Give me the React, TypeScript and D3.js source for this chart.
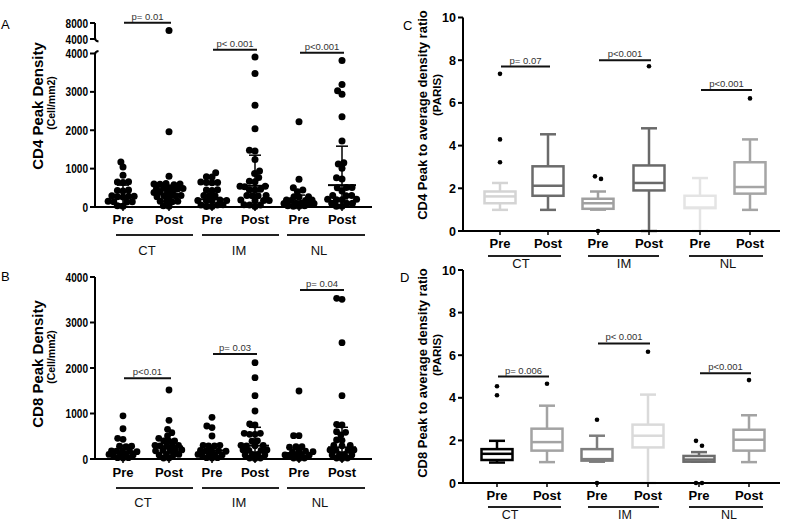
import React from 'react';
import * as d3 from 'd3';

const FONT = "'Liberation Sans', Arial, Helvetica, sans-serif";

const conditions = ['Pre', 'Post', 'Pre', 'Post', 'Pre', 'Post'];
const sites = ['CT', 'IM', 'NL'];

// ---------- Panel A: CD4 peak density (cells/mm2) ----------
const cd4CTPre = [1175, 1040, 830, 660, 650, 640, 440, 430, 420, 290, 280, 280, 270, 260, 150, 140, 140, 130, 30, 20];
const cd4CTPost = [6100, 1960, 800, 610, 600, 600, 590, 580, 500, 490, 490, 480, 470, 400, 390, 390, 380, 300, 290, 290, 280, 270, 160, 150, 150, 140, 30, 20];
const cd4IMPre = [890, 790, 780, 650, 640, 640, 630, 450, 440, 430, 300, 290, 290, 180, 170, 170, 160, 160, 60, 50, 50, 10, 10];
const cd4IMPost = [3910, 3480, 2650, 2040, 1480, 1460, 1240, 940, 870, 770, 670, 660, 540, 540, 530, 460, 450, 450, 300, 300, 290, 290, 180, 170, 170, 160, 60, 50, 50, 10];
const cd4NLPre = [2220, 720, 500, 440, 400, 270, 270, 260, 180, 180, 170, 170, 100, 100, 90, 90, 90, 30, 30, 20, 20];
const cd4NLPost = [3820, 3190, 3030, 2940, 2350, 1720, 1150, 1120, 1010, 760, 730, 510, 510, 500, 420, 300, 300, 290, 200, 200, 190, 190, 100, 100, 90, 20, 20];
const cd4DensityMedian = [268, 330, 200, 553, 138, 570];
const cd4DensityQ1 = [80, 150, 70, 250, 50, 180];
const cd4DensityQ3 = [570, 485, 460, 1350, 310, 1585];
const cd4DensityP = ['p= 0.01', 'p< 0.001', 'p<0.001'];
const cd4DensityPHeight = [8075, 4100, 4020];
const cd4LowerTicks = [0, 1000, 2000, 3000, 4000];
const cd4UpperTicks = [4000, 8000];

// ---------- Panel B: CD8 peak density (cells/mm2) ----------
const cd8CTPre = [950, 665, 455, 432, 280, 280, 270, 180, 180, 170, 170, 160, 100, 100, 90, 90, 90, 30, 30, 20];
const cd8CTPost = [1516, 850, 652, 578, 505, 455, 400, 400, 390, 300, 300, 290, 290, 280, 200, 200, 190, 190, 180, 100, 100, 90, 90, 20, 20];
const cd8IMPre = [916, 725, 690, 505, 300, 300, 290, 290, 190, 190, 180, 180, 170, 100, 100, 90, 90, 90, 30, 30, 20];
const cd8IMPost = [2117, 1787, 1391, 1055, 770, 747, 565, 543, 543, 565, 400, 390, 300, 300, 290, 290, 200, 200, 190, 190, 100, 100, 90, 90, 20, 20, 10];
const cd8NLPre = [1495, 512, 512, 270, 270, 260, 170, 170, 160, 160, 90, 90, 90, 80, 80, 20, 20, 10];
const cd8NLPost = [3532, 3510, 2556, 1391, 763, 747, 600, 587, 527, 418, 410, 300, 300, 290, 200, 200, 190, 190, 100, 100, 90, 90, 20, 20, 10];
const cd8DensityMedian = [167, 275, 188, 293, 125, 257];
const cd8DensityQ1 = [80, 130, 90, 110, 50, 80];
const cd8DensityQ3 = [300, 420, 290, 697, 230, 697];
const cd8DensityP = ['p<0.01', 'p= 0.03', 'p= 0.04'];
const cd8DensityPHeight = [1774, 2308, 3714];
const cd8Ticks = [0, 1000, 2000, 3000, 4000];

// ---------- Panel C: CD4 PARIS ----------
const cd4ParisWhiskerLow = [0.99, 0.99, 1.0, 0, 0, 0.99];
const cd4ParisQ1 = [1.30, 1.65, 1.04, 1.90, 1.07, 1.75];
const cd4ParisMedian = [1.62, 2.12, 1.30, 2.25, 1.10, 2.06];
const cd4ParisQ3 = [1.85, 3.03, 1.51, 3.07, 1.65, 3.22];
const cd4ParisWhiskerHigh = [2.25, 4.53, 1.85, 4.81, 2.48, 4.29];
const cd4ParisOutliers = [[7.36, 4.29, 3.22], [], [2.56, 2.44, 0], [7.72], [], [6.21]];
const cd4ParisColors = ['#d4d4d4', '#6b6b6b', '#a0a0a0', '#696969', '#e4e4e4', '#a5a5a5'];
const cd4ParisP = ['p= 0.07', 'p<0.001', 'p<0.001'];
const cd4ParisPHeight = [7.7, 8.0, 6.6];

// ---------- Panel D: CD8 PARIS ----------
const cd8ParisWhiskerLow = [0.96, 0.98, 1.0, 0, 1.0, 0.98];
const cd8ParisQ1 = [1.08, 1.52, 1.05, 1.67, 1.0, 1.52];
const cd8ParisMedian = [1.37, 1.92, 1.12, 2.22, 1.1, 2.03];
const cd8ParisQ3 = [1.59, 2.55, 1.59, 2.74, 1.27, 2.50];
const cd8ParisWhiskerHigh = [1.98, 3.63, 2.22, 4.15, 1.45, 3.18];
const cd8ParisOutliers = [[4.54, 4.12], [4.66], [2.97, 0], [6.16], [1.98, 1.75, 0, 0], [4.83]];
const cd8ParisColors = ['#000000', '#a3a3a3', '#7d7d7d', '#dadada', '#6c6c6c', '#a3a3a3'];
const cd8ParisP = ['p= 0.006', 'p< 0.001', 'p<0.001'];
const cd8ParisPHeight = [5.0, 6.55, 5.15];
const parisTicks = [0, 2, 4, 6, 8, 10];

// beeswarm offsets, processed from the bottom up, with a capped half-width
function beeswarm(ys: number[], r: number, maxW: number): number[] {
  const order = ys.map((y, i) => i).sort((a, b) => ys[b] - ys[a]);
  const placed: { dx: number; y: number }[] = [];
  const out = new Array(ys.length).fill(0);
  const d = 2 * r * 0.8;
  for (const i of order) {
    const py = ys[i];
    const iv: [number, number][] = [];
    for (const p of placed) {
      const dy = Math.abs(p.y - py);
      if (dy < d) {
        const w = Math.sqrt(d * d - dy * dy);
        iv.push([p.dx - w, p.dx + w]);
      }
    }
    const cands = [0];
    iv.forEach(([a, b]) => cands.push(a, b));
    cands.sort((a, b) => Math.abs(a) - Math.abs(b) || a - b);
    let chosen: number | null = null;
    for (const c of cands) {
      if (Math.abs(c) > maxW) break;
      if (iv.every(([a, b]) => c <= a + 1e-6 || c >= b - 1e-6)) {
        chosen = c;
        break;
      }
    }
    if (chosen === null) {
      let best = 0;
      let bestD = -1;
      for (let c = -maxW; c <= maxW + 1e-6; c += 0.5) {
        let md = Infinity;
        for (const p of placed) {
          const dd = Math.hypot(p.dx - c, p.y - py);
          if (dd < md) md = dd;
        }
        if (md > bestD) {
          bestD = md;
          best = c;
        }
      }
      chosen = best;
    }
    placed.push({ dx: chosen, y: py });
    out[i] = chosen;
  }
  return out;
}

type Layout = {
  xs: number[];
  x0: number;
  x1: number;
  base: number;
  catBase: number;
  lineY: number;
  groupBase: number;
  segs: [number, number][];
  groupX: number[];
};

const layoutTop: Layout = {
  xs: [123, 169, 212, 255, 299, 342], x0: 95, x1: 372, base: 207, catBase: 224, lineY: 235, groupBase: 255,
  segs: [[116, 193], [202, 279], [287, 365]], groupX: [147, 239, 319],
};
const layoutB: Layout = {
  xs: [123, 169, 212, 255, 299, 342], x0: 95, x1: 372, base: 459, catBase: 477, lineY: 488, groupBase: 507,
  segs: [[116, 193], [202, 279], [287, 365]], groupX: [143, 239, 320],
};
const layoutC: Layout = {
  xs: [500, 548, 598, 649, 700, 750], x0: 463, x1: 780, base: 231, catBase: 248, lineY: 256, groupBase: 268,
  segs: [[488, 561], [588, 659], [689, 763]], groupX: [521, 624, 728],
};
const layoutD: Layout = {
  xs: [497, 547, 597, 648, 699, 749], x0: 463, x1: 780, base: 483, catBase: 500, lineY: 507, groupBase: 519,
  segs: [[488, 561], [588, 659], [689, 763]], groupX: [510, 625, 729],
};

function XAxis({ L, groupSize }: { L: Layout; groupSize: number }) {
  return (
    <g>
      <line x1={L.x0} x2={L.x1} y1={L.base} y2={L.base} stroke="#000" strokeWidth={2} />
      {L.xs.map((x, i) => (
        <line key={'t' + i} x1={x} x2={x} y1={L.base} y2={L.base + 4} stroke="#000" strokeWidth={1.5} />
      ))}
      {conditions.map((c, i) => (
        <text key={'c' + i} x={L.xs[i]} y={L.catBase} textAnchor="middle" fontFamily={FONT} fontWeight="bold" fontSize={13}>
          {c}
        </text>
      ))}
      {L.segs.map((s, i) => (
        <line key={'s' + i} x1={s[0]} x2={s[1]} y1={L.lineY} y2={L.lineY} stroke="#222" strokeWidth={2} />
      ))}
      {sites.map((s, i) => (
        <text key={'g' + i} x={L.groupX[i]} y={L.groupBase} textAnchor="middle" fontFamily={FONT} fontSize={groupSize} fill="#111">
          {s}
        </text>
      ))}
    </g>
  );
}

function YTicks({ ticks, y, x, squeeze }: { ticks: number[]; y: (v: number) => number; x: number; squeeze: boolean }) {
  return (
    <g>
      {ticks.map((t, i) => {
        const s = String(t);
        return (
          <g key={i}>
            <line x1={x - 5} x2={x} y1={y(t)} y2={y(t)} stroke="#000" strokeWidth={2} />
            <text
              x={x - 7}
              y={y(t) + 4.5}
              textAnchor="end"
              fontFamily={FONT}
              fontWeight="bold"
              fontSize={12.5}
              {...(squeeze ? { textLength: s.length * 5.6, lengthAdjust: 'spacingAndGlyphs' } : {})}
            >
              {s}
            </text>
          </g>
        );
      })}
    </g>
  );
}

function PBars({ L, labels, heights, y }: { L: Layout; labels: string[]; heights: number[]; y: (v: number) => number }) {
  return (
    <g>
      {labels.map((p, i) => {
        const x1 = L.xs[2 * i] + 1;
        const x2 = L.xs[2 * i + 1] + 2;
        const yy = y(heights[i]);
        return (
          <g key={i}>
            <line x1={x1} x2={x2} y1={yy} y2={yy} stroke="#111" strokeWidth={2} />
            <text x={(x1 + x2) / 2} y={yy - 3} textAnchor="middle" fontFamily={FONT} fontSize={9.5} fill="#333">
              {p}
            </text>
          </g>
        );
      })}
    </g>
  );
}

function Scatter({ data, median, q1, q3, y, L, r, maxW }: { data: number[][]; median: number[]; q1: number[]; q3: number[]; y: (v: number) => number; L: Layout; r: number; maxW: number }) {
  return (
    <g>
      {data.map((vals, i) => {
        const ys = vals.map(y);
        const dx = beeswarm(ys, r, maxW);
        return (
          <g key={i}>
            {ys.map((py, j) => (
              <circle key={j} cx={L.xs[i] + dx[j]} cy={py} r={r} fill="#000" />
            ))}
          </g>
        );
      })}
      {median.map((m, i) => {
        const x = L.xs[i];
        return (
          <g key={'m' + i} stroke="#000">
            <line x1={x - 14} x2={x + 14} y1={y(m)} y2={y(m)} strokeWidth={2} />
            <line x1={x} x2={x} y1={y(q1[i])} y2={y(q3[i])} strokeWidth={1.5} />
            <line x1={x - 6} x2={x + 6} y1={y(q3[i])} y2={y(q3[i])} strokeWidth={1.5} />
            <line x1={x - 6} x2={x + 6} y1={y(q1[i])} y2={y(q1[i])} strokeWidth={1.5} />
          </g>
        );
      })}
    </g>
  );
}

function Boxes({ lo, q1, med, q3, hi, outliers, colors, y, L }: { lo: number[]; q1: number[]; med: number[]; q3: number[]; hi: number[]; outliers: number[][]; colors: string[]; y: (v: number) => number; L: Layout }) {
  const bw = 31;
  const cw = 16;
  return (
    <g>
      {L.xs.map((x, i) => {
        const c = colors[i];
        const outs = outliers[i];
        const offs = outs.map((v, j) => {
          const near = outs.filter((w, k) => k !== j && Math.abs(w - v) < 0.35);
          if (near.length === 0) return 0;
          const firstIdx = outs.findIndex((w) => Math.abs(w - v) < 0.35);
          return firstIdx === j ? -3 : 3;
        });
        return (
          <g key={i}>
            <line x1={x} x2={x} y1={y(lo[i])} y2={y(q1[i])} stroke={c} strokeWidth={2.5} />
            <line x1={x} x2={x} y1={y(q3[i])} y2={y(hi[i])} stroke={c} strokeWidth={2.5} />
            <line x1={x - cw / 2} x2={x + cw / 2} y1={y(lo[i])} y2={y(lo[i])} stroke={c} strokeWidth={2.5} />
            <line x1={x - cw / 2} x2={x + cw / 2} y1={y(hi[i])} y2={y(hi[i])} stroke={c} strokeWidth={2.5} />
            <rect x={x - bw / 2} y={y(q3[i])} width={bw} height={y(q1[i]) - y(q3[i])} fill="#fff" stroke={c} strokeWidth={2.5} />
            <line x1={x - bw / 2} x2={x + bw / 2} y1={y(med[i])} y2={y(med[i])} stroke={c} strokeWidth={2.5} />
            {outs.map((v, j) => (
              <circle key={j} cx={x + offs[j]} cy={y(v)} r={2.3} fill="#000" />
            ))}
          </g>
        );
      })}
    </g>
  );
}

function YTitle({ x, y, text, size }: { x: number; y: number; text: string; size: number }) {
  return (
    <text transform={`translate(${x},${y}) rotate(-90)`} textAnchor="middle" fontFamily={FONT} fontWeight="bold" fontSize={size} fill="#000">
      {text}
    </text>
  );
}

export default function App() {
  const aLower = d3.scaleLinear().domain([0, 4000]).range([207, 53.5]);
  const aUpper = d3.scaleLinear().domain([4000, 8000]).range([39, 23]);
  const yA = (v: number) => (v > 4500 ? aUpper(v) : aLower(v));
  const yB = d3.scaleLinear().domain([0, 4000]).range([459, 277]);
  const yC = d3.scaleLinear().domain([0, 10]).range([231, 17.5]);
  const yD = d3.scaleLinear().domain([0, 10]).range([483, 270]);

  const dataA = [cd4CTPre, cd4CTPost, cd4IMPre, cd4IMPost, cd4NLPre, cd4NLPost];
  const dataB = [cd8CTPre, cd8CTPost, cd8IMPre, cd8IMPost, cd8NLPre, cd8NLPost];

  return (
    <svg width={785} height={522} style={{ position: 'absolute', left: 0, top: 0, background: '#fff' }}>
      <rect x={0} y={0} width={785} height={522} fill="#fff" />
      <text x={1} y={29} fontFamily={FONT} fontSize={13}>A</text>
      <text x={1} y={281} fontFamily={FONT} fontSize={13}>B</text>
      <text x={403} y={30} fontFamily={FONT} fontSize={13}>C</text>
      <text x={400} y={282} fontFamily={FONT} fontSize={13}>D</text>

      {/* ---------- Panel A ---------- */}
      <YTitle x={43} y={106} text="CD4 Peak Density" size={15} />
      <YTitle x={54.5} y={103} text="(Cell/mm2)" size={10.5} />
      <path d={`M95,${aUpper(8000)} L95,${aUpper(4000) - 1} q0,3 3.5,3.5`} fill="none" stroke="#000" strokeWidth={2} />
      <path d={`M95,207 L95,${aLower(4000) + 1} q0,-3 3.5,-3.5`} fill="none" stroke="#000" strokeWidth={2} />
      <YTicks ticks={cd4LowerTicks} y={aLower} x={95} squeeze={true} />
      <YTicks ticks={cd4UpperTicks} y={aUpper} x={95} squeeze={true} />
      <XAxis L={layoutTop} groupSize={13} />
      <Scatter data={dataA} median={cd4DensityMedian} q1={cd4DensityQ1} q3={cd4DensityQ3} y={yA} L={layoutTop} r={3.5} maxW={15} />
      <PBars L={layoutTop} labels={cd4DensityP} heights={cd4DensityPHeight} y={yA} />

      {/* ---------- Panel B ---------- */}
      <YTitle x={43} y={364} text="CD8 Peak Density" size={15} />
      <YTitle x={54.5} y={357} text="(Cell/mm2)" size={10.5} />
      <line x1={95} x2={95} y1={yB(4000)} y2={459} stroke="#000" strokeWidth={2} />
      <YTicks ticks={cd8Ticks} y={yB} x={95} squeeze={true} />
      <XAxis L={layoutB} groupSize={13} />
      <Scatter data={dataB} median={cd8DensityMedian} q1={cd8DensityQ1} q3={cd8DensityQ3} y={yB} L={layoutB} r={3.4} maxW={14} />
      <PBars L={layoutB} labels={cd8DensityP} heights={cd8DensityPHeight} y={yB} />

      {/* ---------- Panel C ---------- */}
      <YTitle x={426.5} y={115} text="CD4 Peak to average density ratio" size={13} />
      <YTitle x={440.5} y={95} text="(PARIS)" size={11.5} />
      <line x1={463} x2={463} y1={yC(10)} y2={231} stroke="#000" strokeWidth={2} />
      <YTicks ticks={parisTicks} y={yC} x={463} squeeze={false} />
      <Boxes lo={cd4ParisWhiskerLow} q1={cd4ParisQ1} med={cd4ParisMedian} q3={cd4ParisQ3} hi={cd4ParisWhiskerHigh} outliers={cd4ParisOutliers} colors={cd4ParisColors} y={yC} L={layoutC} />
      <XAxis L={layoutC} groupSize={13} />
      <PBars L={layoutC} labels={cd4ParisP} heights={cd4ParisPHeight} y={yC} />

      {/* ---------- Panel D ---------- */}
      <YTitle x={427} y={373} text="CD8 Peak to average density ratio" size={13} />
      <YTitle x={440.5} y={355} text="(PARIS)" size={11.5} />
      <line x1={463} x2={463} y1={yD(10)} y2={483} stroke="#000" strokeWidth={2} />
      <YTicks ticks={parisTicks} y={yD} x={463} squeeze={false} />
      <Boxes lo={cd8ParisWhiskerLow} q1={cd8ParisQ1} med={cd8ParisMedian} q3={cd8ParisQ3} hi={cd8ParisWhiskerHigh} outliers={cd8ParisOutliers} colors={cd8ParisColors} y={yD} L={layoutD} />
      <XAxis L={layoutD} groupSize={12.5} />
      <PBars L={layoutD} labels={cd8ParisP} heights={cd8ParisPHeight} y={yD} />
    </svg>
  );
}
